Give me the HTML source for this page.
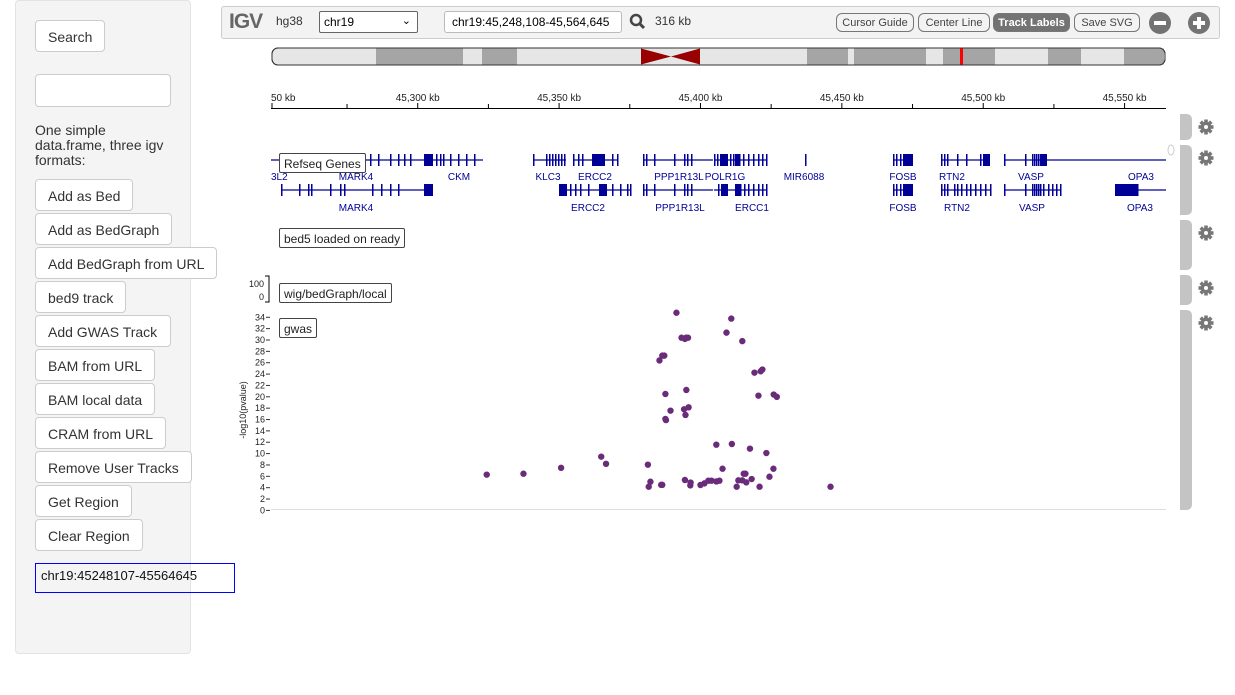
<!DOCTYPE html>
<html><head><meta charset="utf-8">
<style>
body{margin:0;width:1235px;height:695px;background:#fff;font-family:"Liberation Sans",Arial,sans-serif;position:relative;overflow:hidden}
.panel{position:absolute;left:15px;top:0;width:174px;height:652px;background:#f4f4f4;border:1px solid #e3e3e3;border-radius:4px}
.btn{position:absolute;left:35px;height:32px;background:#fff;border:1px solid #ccc;border-radius:4px;font-size:14px;color:#333;line-height:32px;padding:0 12px;box-sizing:border-box;white-space:nowrap}
.abs{position:absolute}
.nav{position:absolute;left:221px;top:6px;width:997px;height:31px;background:#f3f3f3;border:1px solid #ccc;border-radius:3px}
.nbtn{position:absolute;top:6px;height:19px;border:1px solid #777;border-radius:6px;font-size:11px;line-height:19px;text-align:center;color:#444;background:#f3f3f3;box-sizing:border-box}
.lab{position:absolute;left:279px;height:20px;border:1px solid #444;border-radius:2px;background:#fff;font-size:12px;line-height:20px;padding:0 4px;box-sizing:border-box;color:#222}
</style></head><body>
<div class="panel"></div>
<div class="btn" style="top:20px;width:70px">Search</div>
<div class="abs" style="left:35px;top:74px;width:136px;height:33px;background:#fff;border:1px solid #ccc;border-radius:4px;box-sizing:border-box"></div>
<div class="abs" style="left:35px;top:123px;width:135px;font-size:14px;line-height:15px;color:#333">One simple data.frame, three igv formats:</div>
<div class="btn" style="top:179px;width:98px">Add as Bed</div>
<div class="btn" style="top:213px;width:137px">Add as BedGraph</div>
<div class="btn" style="top:247px;width:182px">Add BedGraph from URL</div>
<div class="btn" style="top:281px;width:91px">bed9 track</div>
<div class="btn" style="top:315px;width:136px">Add GWAS Track</div>
<div class="btn" style="top:349px;width:120px">BAM from URL</div>
<div class="btn" style="top:383px;width:120px">BAM local data</div>
<div class="btn" style="top:417px;width:131px">CRAM from URL</div>
<div class="btn" style="top:451px;width:157px">Remove User Tracks</div>
<div class="btn" style="top:485px;width:97px">Get Region</div>
<div class="btn" style="top:519px;width:108px">Clear Region</div>
<div class="abs" style="left:35px;top:563px;width:200px;height:30px;border:1px solid #00f;box-sizing:border-box;font-size:13px;padding:4px 5px;color:#111">chr19:45248107-45564645</div>

<div class="nav">
 <div class="abs" style="left:7px;top:3px;font-size:21px;font-weight:bold;color:#666;letter-spacing:-1px">IGV</div>
 <div class="abs" style="left:54px;top:7px;font-size:12px;color:#333">hg38</div>
 <div class="abs" style="left:97px;top:4px;width:99px;height:22px;background:#fff;border:1px solid #666;border-radius:2px;box-sizing:border-box;font-size:12px;padding:3px 4px">chr19<span style="position:absolute;right:6px;top:2px;font-size:11px">&#8964;</span></div>
 <div class="abs" style="left:222px;top:4px;width:178px;height:22px;background:#fff;border:1px solid #bbb;border-radius:3px;box-sizing:border-box;font-size:12px;padding:3px 7px">chr19:45,248,108-45,564,645</div>
 <svg class="abs" style="left:407px;top:6px" width="18" height="18"><circle cx="7" cy="7" r="5" fill="none" stroke="#444" stroke-width="2.5"/><line x1="10.5" y1="10.5" x2="15" y2="15" stroke="#444" stroke-width="3"/></svg>
 <div class="abs" style="left:433px;top:7px;font-size:12px;color:#333">316 kb</div>
 <div class="nbtn" style="left:614px;width:78px">Cursor Guide</div>
 <div class="nbtn" style="left:696px;width:72px">Center Line</div>
 <div class="nbtn" style="left:771px;width:77px;background:#737373;color:#fff;font-weight:bold">Track Labels</div>
 <div class="nbtn" style="left:852px;width:66px">Save SVG</div>
 <svg class="abs" style="left:926px;top:4px" width="24" height="24"><circle cx="12" cy="12" r="11" fill="#737373"/><rect x="6" y="10" width="12" height="4" fill="#fff"/></svg>
 <svg class="abs" style="left:965px;top:4px" width="24" height="24"><circle cx="12" cy="12" r="11" fill="#737373"/><rect x="6" y="10" width="12" height="4" fill="#fff"/><rect x="10" y="6" width="4" height="12" fill="#fff"/></svg>
</div>

<svg id="main" class="abs" style="left:0;top:0" width="1235" height="695"></svg>

<div class="lab" style="top:153px">Refseq Genes</div>
<div class="lab" style="top:228px">bed5 loaded on ready</div>
<div class="lab" style="top:283px">wig/bedGraph/local</div>
<div class="lab" style="top:318px">gwas</div>

<script>
const gwasPos=[45324.4,45337.4,45350.7,45364.9,45366.6,45381.4,45381.7,45382.3,45386.1,45386.5,45385.5,45386.5,45387.2,45387.6,45387.6,45387.8,45389.4,45391.5,45393.3,45394.9,45395.6,45394.5,45395.0,45394.2,45395.8,45394.7,45394.5,45396.4,45396.5,45400.0,45401.4,45402.8,45403.9,45405.6,45406.7,45405.6,45407.8,45409.2,45410.9,45411.1,45412.8,45413.4,45414.8,45415.3,45415.9,45416.2,45414.8,45417.5,45418.1,45419.1,45420.5,45420.9,45421.3,45421.9,45423.3,45424.4,45425.8,45425.9,45427.0,45446.0];
const gwasVal=[6.29,6.46,7.5,9.46,8.2,8.05,4.17,5.05,4.5,4.5,26.4,27.25,27.25,20.5,16.1,15.9,17.56,34.8,30.4,30.4,30.4,30.2,21.2,17.8,18.15,16.8,5.35,4.4,4.9,4.47,4.76,5.23,5.23,5.1,5.23,11.57,7.34,31.3,33.77,11.69,4.17,5.29,5.29,6.46,6.46,4.94,29.8,10.87,5.52,24.25,20.2,4.17,24.5,24.8,10.1,5.93,7.34,20.4,20.0,4.17];
const yTicks=[0,2,4,6,8,10,12,14,16,18,20,22,24,26,28,30,32,34];
const rulerTicks=[45300,45350,45400,45450,45500,45550];
const kbStart=45248.108, kbEnd=45564.645;
const X0=271,X1=1166;
const xs=kb=>X0+(kb-kbStart)/(kbEnd-kbStart)*(X1-X0);
const ys=v=>510.4-v*5.68;
const NS='http://www.w3.org/2000/svg';
const svg=document.getElementById('main');
function mk(t,a,p){const e=document.createElementNS(NS,t);for(const k in a)e.setAttribute(k,a[k]);(p||svg).appendChild(e);return e;}

// ideogram
const ideo=mk('g',{});


mk('rect',{x:272,y:48,width:893,height:17,rx:6,fill:'#e6e6e6',stroke:'#333','stroke-width':1},ideo);
[[376,463],[482,517],[807,848],[854,926],[943,995],[1048,1081],[1124,1164]].forEach(b=>mk('rect',{x:b[0],y:48.5,width:b[1]-b[0],height:16,fill:'#a5a5a5'},ideo));
mk('polygon',{points:'641,48.5 671,56.5 641,64.5',fill:'#990000'},ideo);
mk('polygon',{points:'700,48.5 671,56.5 700,64.5',fill:'#990000'},ideo);
mk('rect',{x:960,y:48,width:3,height:17,fill:'#ff0000'},ideo);
mk('rect',{x:272,y:48,width:893,height:17,rx:6,fill:'none',stroke:'#333'},ideo);

// ruler
const rul=mk('g',{});


mk('line',{x1:271,y1:108.5,x2:1166,y2:108.5,stroke:'#000'},rul);
rulerTicks.forEach(k=>{const x=xs(k);
 mk('line',{x1:x,y1:103,x2:x,y2:108,stroke:'#000'},rul);
 const t=mk('text',{x:x,y:101,'font-size':10,'text-anchor':'middle',fill:'#222'},rul);t.textContent=k.toLocaleString('en-US')+' kb';});
for(let k=45275;k<45564;k+=50){const x=xs(k);mk('line',{x1:x,y1:104,x2:x,y2:108,stroke:'#000'},rul);}
mk('line',{x1:272,y1:103,x2:272,y2:108,stroke:'#000'},rul);
const t0=mk('text',{x:271,y:101,'font-size':10,fill:'#222'},rul);t0.textContent='50 kb';

// genes
const gg=mk('g',{fill:'#000096',stroke:'#000096'});


const genes=[
 [160,271,433,[300,320,330,338,343,370,378,390,398,404,410],[[424,433]]],
 [160,433,483,[436,440,443,450,458,466,474],[]],
 [160,533,566,[533,546,549,552,555,558,561,564],[]],
 [160,573,618,[573,578,582,597,600,603,612,617],[[592,605]]],
 [160,643,713,[643,646,654,674,684,687,691],[]],
 [160,714,767,[714,717,720,730,733,739,743,748,753,758,762,766],[[721,728],[735,740]]],
 [160,805,806,[805],[]],
 [160,893,913,[893,896,900],[[903,913]]],
 [160,941,990,[941,944,947,957,966,980,983],[[984,990]]],
 [160,1004,1166,[1004,1025,1032,1034,1036,1038,1040,1043],[[1040,1047]]],
 [190,281,433,[281,299,308,311,330,340,344,372,381,390,398],[[424,433]]],
 [190,560,631,[565,570,575,580,588,600,612,620,627,630],[[559,567],[599,607]]],
 [190,643,713,[643,646,654,674,684,687,691],[]],
 [190,714,767,[718,735,740,744,748,753,758,762,766],[[721,728],[735,740]]],
 [190,893,913,[893,896,900],[[903,913]]],
 [190,941,991,[941,944,947,954,957,961,966,970,975,980,985,990],[]],
 [190,1004,1061,[1004,1025,1032,1034,1036,1038,1040,1043,1048,1052,1056,1060],[]],
 [190,1115,1166,[1137],[[1115,1137]]]];
genes.forEach(g=>{const y=g[0];
 mk('line',{x1:g[1],y1:y,x2:g[2],y2:y,'stroke-width':1.3},gg);
 g[3].forEach(x=>mk('rect',{x:x,y:y-6,width:1.5,height:12,stroke:'none'},gg));
 g[4].forEach(b=>mk('rect',{x:b[0],y:y-6,width:b[1]-b[0],height:12,stroke:'none'},gg));});
const glab=[[271,180,'3L2','start'],[356,180,'MARK4'],[459,180,'CKM'],[548,180,'KLC3'],[595,180,'ERCC2'],[679,180,'PPP1R13L'],[725,180,'POLR1G'],[804,180,'MIR6088'],[903,180,'FOSB'],[952,180,'RTN2'],[1031,180,'VASP'],[1141,180,'OPA3'],
 [356,211,'MARK4'],[588,211,'ERCC2'],[680,211,'PPP1R13L'],[752,211,'ERCC1'],[903,211,'FOSB'],[957,211,'RTN2'],[1032,211,'VASP'],[1140,211,'OPA3']];
glab.forEach(l=>{const t=mk('text',{x:l[0],y:l[1],'font-size':10,'text-anchor':l[3]||'middle',fill:'#000096',stroke:'none'},gg);t.textContent=l[2];});

// wig axis
const wa=mk('g',{'font-size':9,fill:'#222'});


mk('polyline',{points:'265,276 269,276 269,302 265,302',fill:'none',stroke:'#000'},wa);
let tt=mk('text',{x:264,y:287,'text-anchor':'end'},wa);tt.textContent='100';
tt=mk('text',{x:264,y:300,'text-anchor':'end'},wa);tt.textContent='0';

// gwas axes
const ax=mk('g',{'font-size':9,fill:'#222'});


yTicks.forEach(v=>{const y=ys(v);mk('line',{x1:266,y1:y,x2:270,y2:y,stroke:'#333'},ax);
 const t=mk('text',{x:265,y:y+3,'text-anchor':'end'},ax);t.textContent=v;});
const yl=mk('text',{x:0,y:0,transform:'translate(246,410) rotate(-90)','text-anchor':'middle','font-size':9,fill:'#222'});
yl.textContent='-log10(pvalue)';


const bl=mk('line',{x1:271,y1:509.5,x2:1166,y2:509.5,stroke:'#ddd'});


const pts=mk('g',{fill:'#6a2c7a'});


gwasPos.forEach((p,i)=>{const c=mk('circle',{cx:xs(p),cy:ys(gwasVal[i]),r:3.2},pts);
 
 });

// side bars and gears
const sb=mk('g',{});


[[114,140],[145,215],[220,270],[275,305],[310,510]].forEach(s=>{
 mk('path',{d:`M1180 ${s[0]} H1186 Q1192 ${s[0]} 1192 ${s[0]+6} V${s[1]-6} Q1192 ${s[1]} 1186 ${s[1]} H1180 Z`,fill:'#c4c4c4'},sb);
 const gy=s[0]+13, g=mk('g',{transform:`translate(1206,${gy})`,fill:'#777'});
 
 
 for(let a=0;a<360;a+=45)mk('rect',{x:-1.8,y:-7.5,width:3.6,height:4,transform:`rotate(${a})`},g);
 mk('circle',{r:5.2},g);mk('circle',{r:2,fill:'#fff'},g);});
const oc=mk('ellipse',{cx:1171,cy:150,rx:3,ry:5,fill:'none',stroke:'#ccc'});


</script>
</body></html>
